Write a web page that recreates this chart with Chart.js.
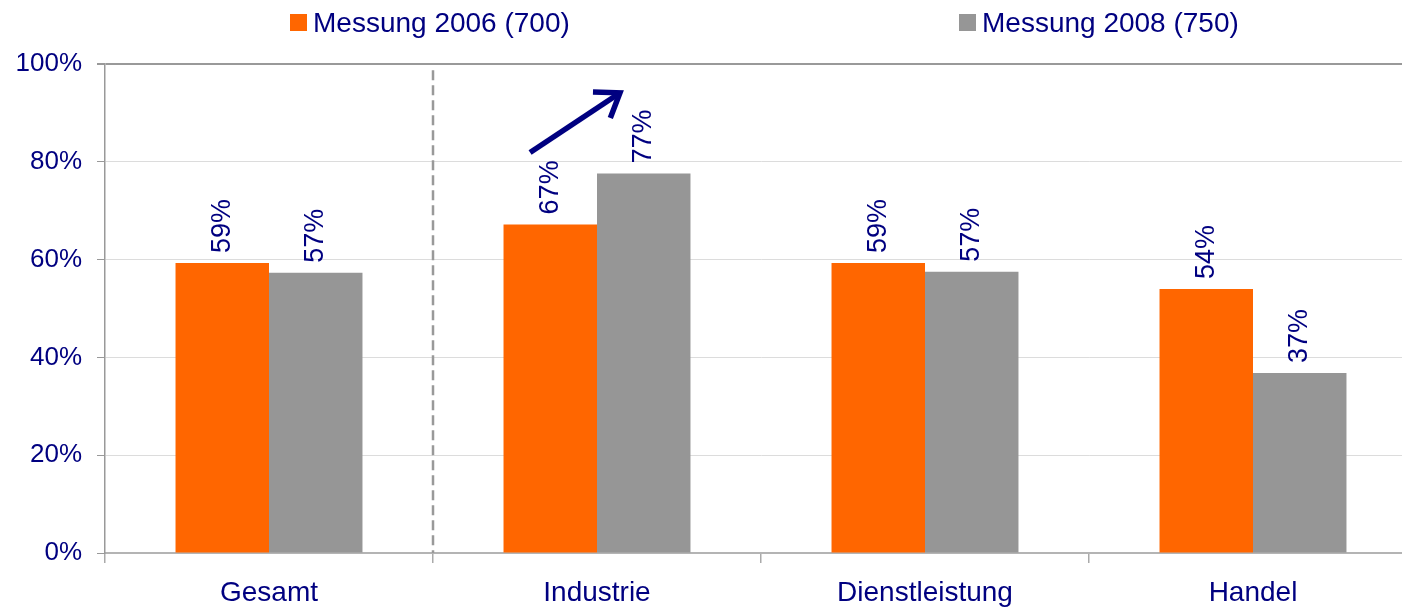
<!DOCTYPE html>
<html lang="de">
<head>
    <meta charset="UTF-8">
    <title>Messung 2006 / 2008</title>
    <style>
        html, body { margin: 0; padding: 0; overflow: hidden; background: #fff; }
        #wrap { width: 1417px; height: 607px; }
    </style>
    <script src="https://cdn.jsdelivr.net/npm/chart.js"></script>
</head>
<body>
    <div id="wrap"><canvas id="chart" width="1417" height="607"></canvas></div>

    <script>
        const categories = ['Gesamt', 'Industrie', 'Dienstleistung', 'Handel'];
        const seriesNames = ['Messung 2006 (700)', 'Messung 2008 (750)'];
        const values2006 = [59.3, 67.2, 59.3, 54.0];
        const values2008 = [57.3, 77.6, 57.5, 36.8];
        const labels2006 = ['59%', '67%', '59%', '54%'];
        const labels2008 = ['57%', '77%', '57%', '37%'];
        const yTicks = [0, 20, 40, 60, 80, 100];

        // arrow over Industrie, in axis units (category index, percent)
        const arrowFrom = [0.796, 81.9];
        const arrowTo = [1.07, 94.1];

        const navy = '#000080';
        const font = "'Liberation Sans', Arial, sans-serif";

        const decor = {
            id: 'decor',
            afterDatasetsDraw(chart) {
                const ctx = chart.ctx;
                const x = chart.scales.x;
                const y = chart.scales.y;

                // dashed separator after Gesamt
                ctx.save();
                ctx.strokeStyle = '#999';
                ctx.lineWidth = 2.5;
                ctx.setLineDash([10, 5]);
                const sx = x.getPixelForValue(0.5);
                ctx.beginPath();
                ctx.moveTo(sx, y.getPixelForValue(98.7));
                ctx.lineTo(sx, y.getPixelForValue(0));
                ctx.stroke();
                ctx.restore();

                // rotated value labels
                const allLabels = [labels2006, labels2008];
                ctx.save();
                ctx.fillStyle = navy;
                ctx.font = '27px ' + font;
                ctx.textAlign = 'left';
                ctx.textBaseline = 'middle';
                chart.data.datasets.forEach((ds, di) => {
                    chart.getDatasetMeta(di).data.forEach((bar, i) => {
                        ctx.save();
                        ctx.translate(bar.x, bar.y - 10);
                        ctx.rotate(-Math.PI / 2);
                        ctx.fillText(allLabels[di][i], 0, 0);
                        ctx.restore();
                    });
                });
                ctx.restore();

                // arrow
                const x1 = x.getPixelForValue(arrowFrom[0]), y1 = y.getPixelForValue(arrowFrom[1]);
                const x2 = x.getPixelForValue(arrowTo[0]), y2 = y.getPixelForValue(arrowTo[1]);
                const ang = Math.atan2(y2 - y1, x2 - x1);
                const head = 27, spread = 0.62;
                ctx.save();
                ctx.strokeStyle = navy;
                ctx.lineWidth = 5.5;
                ctx.beginPath();
                ctx.moveTo(x1, y1);
                ctx.lineTo(x2 - 2 * Math.cos(ang), y2 - 2 * Math.sin(ang));
                ctx.stroke();
                ctx.lineJoin = 'miter';
                ctx.beginPath();
                ctx.moveTo(x2 - head * Math.cos(ang - spread), y2 - head * Math.sin(ang - spread));
                ctx.lineTo(x2, y2);
                ctx.lineTo(x2 - head * Math.cos(ang + spread), y2 - head * Math.sin(ang + spread));
                ctx.stroke();
                ctx.restore();
            },
            afterDraw(chart) {
                // legend
                const ctx = chart.ctx;
                const pos = [290, 959];
                ctx.save();
                ctx.font = '28px ' + font;
                ctx.textBaseline = 'alphabetic';
                chart.data.datasets.forEach((ds, di) => {
                    ctx.fillStyle = ds.backgroundColor;
                    ctx.fillRect(pos[di], 14, 17, 17);
                    ctx.fillStyle = navy;
                    ctx.fillText(ds.label, pos[di] + 23, 31.5);
                });
                ctx.restore();
            }
        };

        new Chart(document.getElementById('chart'), {
            type: 'bar',
            data: {
                labels: categories,
                datasets: [
                    {
                        label: seriesNames[0],
                        data: values2006,
                        backgroundColor: '#FF6600',
                        barPercentage: 1,
                        categoryPercentage: 0.57,
                    },
                    {
                        label: seriesNames[1],
                        data: values2008,
                        backgroundColor: '#969696',
                        barPercentage: 1,
                        categoryPercentage: 0.57,
                    },
                ],
            },
            options: {
                responsive: false,
                animation: false,
                layout: { padding: { top: 64, left: 0, right: 0, bottom: 0 } },
                plugins: {
                    legend: { display: false },
                    tooltip: { enabled: false },
                },
                scales: {
                    x: {
                        offset: true,
                        grid: {
                            offset: true,
                            drawOnChartArea: false,
                            drawTicks: true,
                            tickLength: 10,
                            color: '#aaa',
                            lineWidth: 1.5,
                        },
                        border: { color: '#b4b4b4', width: 2 },
                        ticks: {
                            color: navy,
                            font: { size: 28, family: font },
                            padding: 13,
                            maxRotation: 0,
                        },
                        afterFit(scale) { scale.height = 54; },
                    },
                    y: {
                        min: 0,
                        max: 100,
                        afterBuildTicks(scale) {
                            scale.ticks = yTicks.map(v => ({ value: v }));
                        },
                        grid: {
                            color: c => c.tick && c.tick.value === 100 ? '#999' : '#dcdcdc',
                            lineWidth: c => c.tick && c.tick.value === 100 ? 2 : 1,
                            tickColor: '#999',
                            tickLength: 8,
                        },
                        border: { color: '#999', width: 1.5 },
                        ticks: {
                            color: navy,
                            font: { size: 26, family: font },
                            padding: 15,
                            callback: v => v + '%',
                        },
                        afterFit(scale) { scale.width = 105; },
                    },
                },
            },
            plugins: [decor],
        });
    </script>
</body>
</html>
